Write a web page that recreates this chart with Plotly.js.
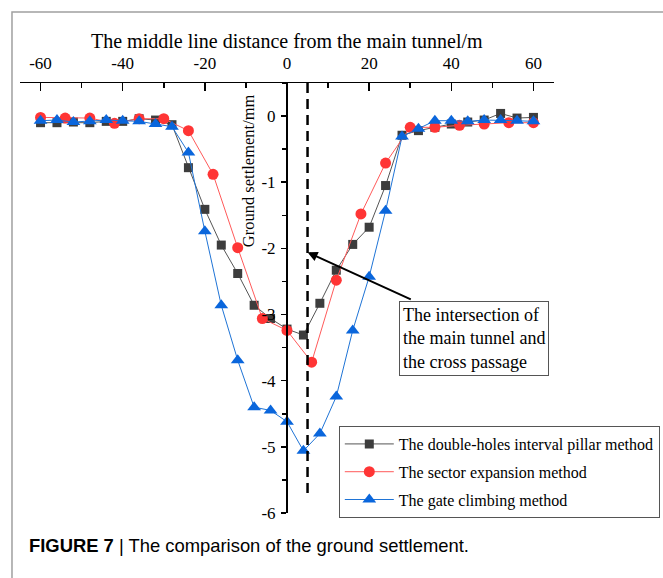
<!DOCTYPE html>
<html>
<head>
<meta charset="utf-8">
<script src="https://cdn.plot.ly/plotly-3.0.1.min.js"></script>
<style>
  html, body { margin: 0; padding: 0; background: #ffffff; }
  #chart { width: 663px; height: 578px; }
</style>
</head>
<body>
<div id="chart"></div>
<script>
// Distance from the main tunnel centre line (m)
const distance4m = [-60, -56, -52, -48, -44, -40, -36, -32, -28, -24, -20, -16, -12, -8, -4, 0,
                    4, 8, 12, 16, 20, 24, 28, 32, 36, 40, 44, 48, 52, 56, 60];
const distance6m = [-60, -54, -48, -42, -36, -30, -24, -18, -12, -6, 0,
                    6, 12, 18, 24, 30, 36, 42, 48, 54, 60];

// Ground settlement (mm) for each construction method
const doubleHolesPillar = [-0.10, -0.10, -0.09, -0.10, -0.08, -0.08, -0.04, -0.06, -0.13, -0.78, -1.41, -1.95, -2.38, -2.86, -3.06, -3.22,
                           -3.31, -2.83, -2.33, -1.94, -1.68, -1.05, -0.29, -0.22, -0.17, -0.12, -0.09, -0.06, 0.04, -0.03, -0.02];
const sectorExpansion = [-0.02, -0.03, -0.03, -0.11, -0.04, -0.04, -0.22, -0.88, -1.99, -3.06, -3.24,
                         -3.72, -2.48, -1.48, -0.71, -0.17, -0.17, -0.14, -0.12, -0.10, -0.10];
const gateClimbing = [-0.07, -0.06, -0.09, -0.08, -0.06, -0.07, -0.08, -0.12, -0.16, -0.55, -1.74, -2.86, -3.69, -4.40, -4.45, -4.62,
                      -5.06, -4.80, -4.24, -3.24, -2.43, -1.43, -0.31, -0.19, -0.07, -0.07, -0.08, -0.06, -0.06, -0.07, -0.08];

const seriesNames = [
  'The double-holes interval pillar method',
  'The sector expansion method',
  'The gate climbing method'
];

// Tick positions and labels (plain hyphen minus signs)
const xTickVals = [-60, -40, -20, 0, 20, 40, 60];
const xTickText = ['-60', '-40', '-20', '0', '20', '40', '60'];
const yTickVals = [0, -1, -2, -3, -4, -5, -6];
const yTickText = ['0', '-1', '-2', '-3', '-4', '-5', '-6'];

const serif = 'Liberation Serif, Times New Roman, serif';

const traces = [
  {
    x: distance4m, y: doubleHolesPillar, name: seriesNames[0], legendgroup: 'a',
    type: 'scatter', mode: 'lines+markers',
    line: { color: '#555555', width: 1 },
    marker: { symbol: 'square', size: 9, color: '#3d3d3d' }
  },
  {
    x: distance6m, y: sectorExpansion, name: seriesNames[1], legendgroup: 'b',
    type: 'scatter', mode: 'lines+markers',
    line: { color: '#ff5a5a', width: 1 },
    marker: { symbol: 'circle', size: 11, color: '#ff3535' }
  },
  {
    x: distance4m, y: gateClimbing, name: seriesNames[2], legendgroup: 'c',
    type: 'scatter', mode: 'lines+markers',
    line: { color: '#1f74d6', width: 1 },
    marker: { symbol: 'triangle-up', size: 12, color: '#0a66dc' }
  }
];

const layout = {
  width: 663,
  height: 578,
  margin: { l: 20, r: 109, t: 83, b: 65, autoexpand: false },
  paper_bgcolor: '#ffffff',
  plot_bgcolor: '#ffffff',
  font: { family: serif, color: '#000000', size: 17 },
  showlegend: true,
  xaxis: {
    side: 'top',
    range: [-65, 65],
    showline: true, linecolor: '#000000', linewidth: 1.5,
    ticks: 'inside', ticklen: 8, tickwidth: 1.5, tickcolor: '#000000',
    tickmode: 'array', tickvals: xTickVals, ticktext: xTickText,
    minor: { tickmode: 'linear', tick0: 0, dtick: 10, ticks: 'inside', ticklen: 5, tickwidth: 1.5, tickcolor: '#000000' },
    ticklabelstandoff: 6,
    showgrid: false, zeroline: false,
    tickfont: { family: serif, size: 17 }
  },
  yaxis: {
    range: [-6, 0.5],
    anchor: 'free', position: 0.5,
    showline: true, linecolor: '#000000', linewidth: 2,
    ticks: 'outside', ticklen: 5, tickwidth: 1.5, tickcolor: '#000000',
    tickmode: 'array', tickvals: yTickVals, ticktext: yTickText,
    minor: { tickmode: 'linear', tick0: 0, dtick: 0.5, ticks: 'outside', ticklen: 4, tickwidth: 1.5, tickcolor: '#000000' },
    ticklabelstandoff: 2,
    showgrid: false, zeroline: false,
    tickfont: { family: serif, size: 17 }
  },
  legend: {
    x: 0.597, y: 0.2023, xanchor: 'left', yanchor: 'top',
    bgcolor: '#ffffff', bordercolor: '#555555', borderwidth: 1,
    font: { family: serif, size: 16, color: '#000000' },
    itemwidth: 49, tracegroupgap: 4
  },
  shapes: [
    // intersection of the main tunnel and the cross passage
    { type: 'line', xref: 'x', yref: 'y', x0: 5, x1: 5, y0: 0.5, y1: -5.76,
      line: { color: '#000000', width: 2.5, dash: '10px,6px' } },
    // figure frame
    { type: 'rect', xref: 'paper', yref: 'paper', x0: -0.015, x1: 1.23, y0: 1.165, y1: -0.18,
      line: { color: '#a0a0a0', width: 1.5 }, layer: 'below' }
  ],
  annotations: [
    // top axis title
    { xref: 'paper', yref: 'paper', x: 0.5, y: (513 - 41) / 430, xanchor: 'center', yanchor: 'middle',
      text: 'The middle line distance from the main tunnel/m', showarrow: false,
      font: { family: serif, size: 20 } },
    // vertical axis title
    { xref: 'paper', yref: 'paper', x: 0.427, y: 0.795, xanchor: 'center', yanchor: 'middle',
      text: 'Ground settlement/mm', textangle: -90, showarrow: false,
      font: { family: serif, size: 16.5 } },
    { xref: 'x', yref: 'y', x: 5, y: -2.06, axref: 'x', ayref: 'y', ax: 30.5, ay: -2.78,
      text: '', showarrow: true, arrowhead: 2, arrowsize: 1, arrowwidth: 2, arrowcolor: '#000000', standoff: 0 },
    { xref: 'paper', yref: 'paper', x: 0.709, y: 0.494, xanchor: 'left', yanchor: 'top',
      text: 'The intersection of<br>the main tunnel and<br>the cross passage', align: 'left',
      showarrow: false, bordercolor: '#555555', borderwidth: 1, borderpad: 3, bgcolor: '#ffffff',
      font: { family: serif, size: 18 } },
    { xref: 'paper', yref: 'paper', x: 0.0131, y: -0.0767, xanchor: 'left', yanchor: 'middle',
      text: '<b>FIGURE 7</b> | The comparison of the ground settlement.', showarrow: false,
      font: { family: 'Liberation Sans, Arial, sans-serif', size: 18.4, color: '#000000' } }
  ]
};

Plotly.newPlot('chart', traces, layout, { displayModeBar: false, staticPlot: true });
</script>
</body>
</html>
